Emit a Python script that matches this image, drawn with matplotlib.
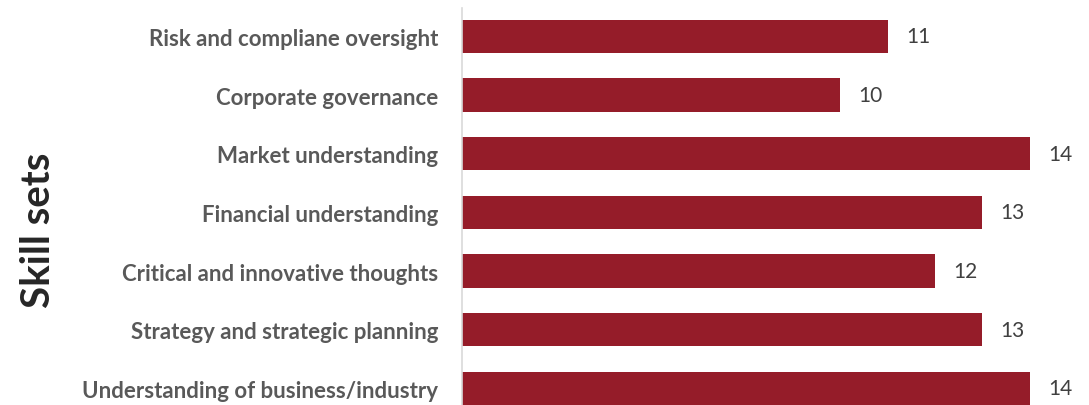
import matplotlib.pyplot as plt

# skill sets, listed bottom to top
skills = [
    "Understanding of business/industry",
    "Strategy and strategic planning",
    "Critical and innovative thoughts",
    "Financial understanding",
    "Market understanding",
    "Corporate governance",
    "Risk and compliane oversight",
]
counts = [14, 13, 12, 13, 14, 10, 11]

bar_color = "#951c29"
text_color = "#595959"

plt.rcParams["font.family"] = ["Lato", "DejaVu Sans"]

fig = plt.figure(figsize=(10.89, 4.06), dpi=100)
ax = fig.add_axes([0.424, 0.0, 0.576, 0.977])

ypos = list(range(len(skills)))
bars = ax.barh(ypos, counts, height=0.57, color=bar_color, left=0)
ax.bar_label(bars, labels=[str(c) for c in counts], padding=13,
             fontsize=15, color="#404040")

ax.set_xlim(2, 15.25)
ax.set_ylim(-0.285, 6.48)
ax.set_yticks(ypos)
ax.set_yticklabels(skills, fontsize=16, fontweight="bold", color=text_color)
ax.tick_params(axis="y", length=0, pad=17)
ax.set_xticks([])

for side in ["top", "right", "bottom"]:
    ax.spines[side].set_visible(False)
ax.spines["left"].set_color("#d9d9d9")
ax.spines["left"].set_linewidth(1.2)

fig.text(0.035, 0.433, "Skill sets", rotation=90, ha="center", va="center",
         fontsize=29, fontweight="bold", color="#262626")

fig.savefig("out.png", dpi=100)
